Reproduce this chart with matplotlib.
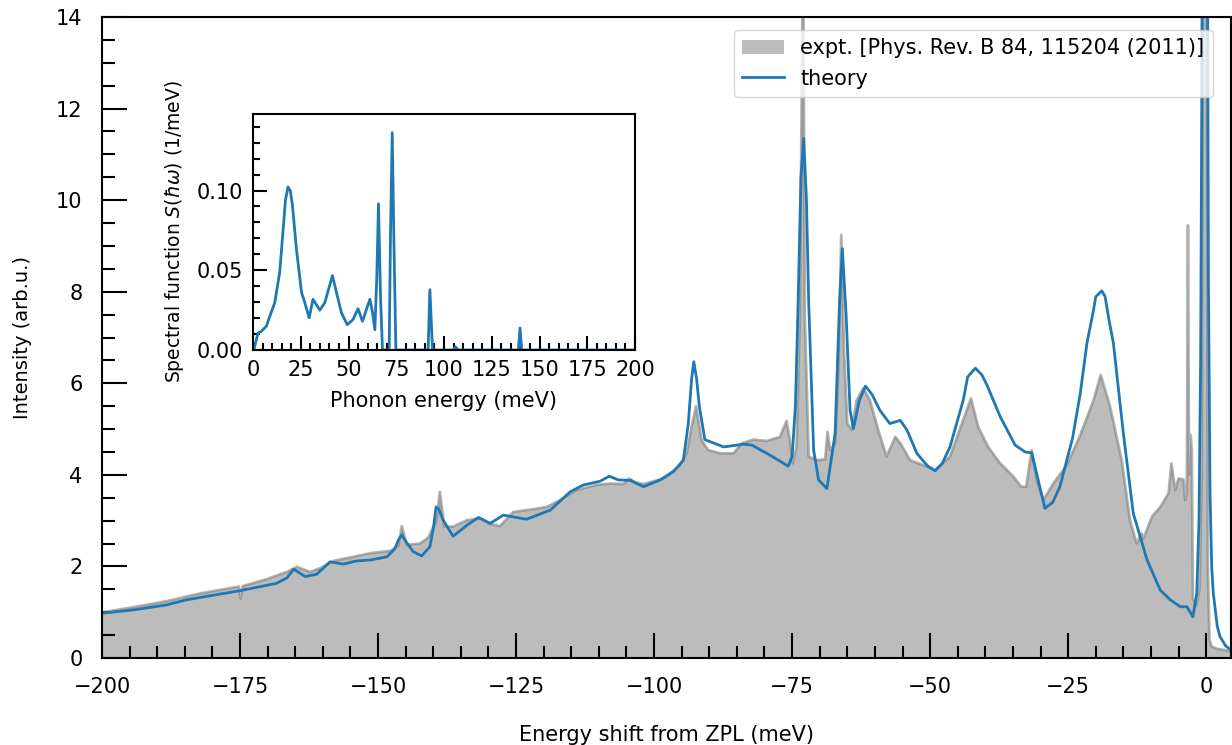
import numpy as np
import matplotlib
matplotlib.use("Agg")
import matplotlib.pyplot as plt
from matplotlib.ticker import MultipleLocator

expt_E = [-200, -197.3, -194.3, -188.3, -182.2, -176.2, -175.2, -174.9, -174.5, -170.2,
          -166.5, -164.7, -162.3, -160.5, -158.1, -154.5, -151.4, -147.8, -146.3, -145.7,
          -144.8, -142.4, -140.9, -139.4, -138.8, -138.0, -136.4, -133.9, -131.5, -129.7,
          -127.9, -125.5, -121.9, -119.4, -117.0, -114.0, -110.4, -108.0, -105.6, -104.5,
          -103.5, -101.9, -98.3, -95.3, -94.1, -93.2, -92.4, -91.4, -90.2, -88.0,
          -85.6, -84.1, -82.0, -79.6, -77.2, -76.0, -75.4, -74.9, -74.2, -73.6,
          -73.0, -72.7, -72.0, -70.5, -69.0, -68.6, -68.1, -67.2, -66.6, -66.1,
          -65.6, -65.0, -64.2, -63.3, -62.1, -60.9, -59.4, -57.9, -56.3, -55.4,
          -53.6, -51.2, -49.1, -46.4, -44.0, -42.6, -41.3, -39.5, -37.3, -34.9,
          -33.5, -32.6, -31.6, -30.7, -29.5, -27.7, -25.2, -22.8, -20.4, -19.1,
          -17.4, -15.3, -13.8, -12.6, -11.7, -11.4, -9.8, -8.3, -6.8, -6.3,
          -5.6, -5.0, -4.1, -3.8, -3.5, -3.3, -3.1, -2.8, -2.6, -2.4,
          -1.8, -1.2, -0.8, -0.5, -0.2, 0.1, 0.3, 0.6, 1.0, 2.0, 3.0, 4.5]
expt_I = [0.99, 1.05, 1.11, 1.24, 1.41, 1.54, 1.56, 1.30, 1.57, 1.72,
          1.88, 1.99, 1.88, 1.96, 2.12, 2.21, 2.29, 2.34, 2.45, 2.88,
          2.47, 2.50, 2.63, 3.01, 3.63, 2.87, 2.87, 3.01, 3.05, 2.93,
          2.88, 3.19, 3.25, 3.30, 3.45, 3.67, 3.78, 3.81, 3.80, 3.92,
          3.84, 3.80, 3.92, 4.21, 4.47, 5.05, 5.50, 4.76, 4.54, 4.47,
          4.47, 4.69, 4.77, 4.74, 4.83, 5.18, 4.76, 4.25, 4.60, 7.45,
          16.0, 7.45, 4.40, 4.32, 4.34, 4.94, 4.54, 4.69, 6.36, 9.24,
          6.72, 5.12, 4.98, 5.63, 5.89, 5.63, 4.98, 4.40, 4.83, 4.69,
          4.32, 4.21, 4.10, 4.40, 5.20, 5.67, 5.05, 4.61, 4.25, 3.96,
          3.74, 3.74, 4.54, 3.89, 3.45, 3.81, 4.22, 4.87, 5.63, 6.18,
          5.49, 4.32, 3.01, 2.50, 2.72, 2.60, 3.09, 3.30, 3.60, 4.25,
          3.67, 3.92, 3.90, 3.45, 3.60, 9.45, 4.00, 4.87, 4.50, 1.30,
          1.15, 1.50, 4.0, 20.0, 30.0, 15.0, 2.0, 0.4, 0.25, 0.20, 0.18, 0.15]

# theoretical lineshape
theo_E = [-200, -194.3, -188.3, -184.7, -180.4, -175.0, -168.4, -166.5, -165.3, -163.2,
          -161.1, -158.7, -156.3, -153.9, -151.4, -148.4, -147.0, -146.3, -145.7, -145.0,
          -143.6, -142.1, -140.6, -139.9, -139.5, -139.0, -138.2, -136.4, -133.9, -131.8,
          -129.7, -127.3, -123.1, -118.8, -115.2, -112.8, -109.8, -108.1, -106.5, -104.3,
          -101.9, -98.9, -96.5, -94.7, -93.8, -93.2, -92.8, -92.3, -91.8, -90.8,
          -87.4, -83.8, -82.3, -79.0, -75.7, -75.0, -74.4, -73.9, -73.4, -72.9,
          -72.4, -72.0, -71.1, -70.2, -68.7, -67.2, -66.4, -65.9, -65.2, -64.5,
          -63.9, -62.8, -61.7, -60.5, -59.1, -57.3, -55.4, -54.2, -52.4, -50.5,
          -49.1, -47.8, -46.4, -44.0, -43.2, -41.8, -40.6, -39.7, -37.3, -34.6,
          -32.8, -31.6, -30.7, -29.2, -27.8, -26.5, -24.2, -22.8, -21.6, -20.4,
          -20.0, -18.9, -18.3, -17.7, -16.8, -15.0, -13.2, -10.7, -8.3, -6.5,
          -4.7, -3.5, -2.4, -1.7, -1.3, -1.0, -0.8, -0.6, -0.4, -0.2,
          0.0, 0.2, 0.4, 0.7, 1.0, 1.3, 2.0, 2.5, 3.5, 4.5]
theo_I = [0.98, 1.05, 1.16, 1.27, 1.36, 1.47, 1.63, 1.75, 1.94, 1.78,
          1.83, 2.10, 2.05, 2.12, 2.14, 2.21, 2.38, 2.58, 2.69, 2.55,
          2.32, 2.23, 2.43, 2.90, 3.30, 3.25, 3.01, 2.66, 2.90, 3.07,
          2.94, 3.12, 3.03, 3.23, 3.63, 3.78, 3.86, 3.97, 3.89, 3.88,
          3.74, 3.89, 4.07, 4.32, 5.12, 6.10, 6.47, 6.10, 5.49, 4.77,
          4.61, 4.67, 4.65, 4.43, 4.19, 4.40, 5.50, 7.80, 10.5, 11.35,
          10.0, 7.80, 4.54, 3.89, 3.70, 4.91, 7.80, 8.94, 7.45, 5.41,
          5.01, 5.63, 5.94, 5.75, 5.41, 5.12, 5.19, 4.98, 4.47, 4.20,
          4.09, 4.25, 4.61, 5.63, 6.14, 6.33, 6.18, 5.96, 5.27, 4.65,
          4.50, 4.48, 4.03, 3.27, 3.40, 3.74, 4.80, 5.78, 6.87, 7.60,
          7.89, 8.02, 7.89, 7.45, 6.87, 4.91, 3.16, 2.14, 1.48, 1.27,
          1.12, 1.12, 0.90, 1.41, 3.0, 6.5, 12.0, 20.0, 32.0, 40.0,
          32.0, 18.0, 8.5, 3.6, 2.0, 1.41, 0.70, 0.47, 0.27, 0.17]

# spectral function for the inset
ph_E = [0, 0.4, 2.6, 4.4, 7.0, 8.8, 11.4, 14.0, 15.7, 17.0, 18.3,
        19.5, 20.6, 22.7, 25.4, 27.1, 29.4, 31.4, 35.0, 37.6, 41.6, 43.7,
        46.3, 49.3, 52.4, 55.0, 57.3, 61.2, 62.6, 63.8, 64.8, 65.7,
        66.8, 67.8, 71.3, 72.0, 72.9, 73.7, 74.8, 91.7, 92.6, 94.0,
        104.5, 106.0, 107.5, 138.9, 139.8, 140.7, 200]
ph_S = [0, 0, 0.0106, 0.0117, 0.0149, 0.0212, 0.0297, 0.0488, 0.0743, 0.094, 0.1023,
        0.1000, 0.0913, 0.0637, 0.0361, 0.0297, 0.0202, 0.0318, 0.0250, 0.0297, 0.0467, 0.0361,
        0.0234, 0.0159, 0.0191, 0.0259, 0.0180, 0.0318, 0.0234, 0.0127, 0.045, 0.0917,
        0.032, 0, 0, 0.074, 0.1363, 0.074, 0, 0, 0.0378, 0,
        0, 0.002, 0, 0, 0.0138, 0, 0]

plt.rcParams['font.size'] = 15
plt.rcParams['axes.linewidth'] = 1.5

fig = plt.figure(figsize=(12.32, 7.45), dpi=100)
ax = fig.add_axes([102/1232, 87/745, 1129/1232, 641/745])

ax.fill_between(expt_E, 0, expt_I, color='gray', alpha=0.52, lw=0,
                label='expt. [Phys. Rev. B 84, 115204 (2011)]')
ax.plot(expt_E, expt_I, color='gray', alpha=0.6, lw=2)
ax.plot(theo_E, theo_I, color='tab:blue', lw=2, label='theory')

ax.set_xlim(-200, 4.5)
ax.set_ylim(0, 14)
ax.xaxis.set_major_locator(MultipleLocator(25))
ax.xaxis.set_minor_locator(MultipleLocator(5))
ax.yaxis.set_major_locator(MultipleLocator(2))
ax.yaxis.set_minor_locator(MultipleLocator(0.5))
ax.tick_params(which='both', direction='in', width=1.5, top=False, right=False)
ax.tick_params(which='major', length=18, pad=14)
ax.tick_params(which='minor', length=9)
ax.set_xlabel('Energy shift from ZPL (meV)', labelpad=20)
ax.set_ylabel('Intensity (arb.u.)', fontsize=14, labelpad=17)
ax.legend(loc='upper right', bbox_to_anchor=(0.984, 0.98), borderaxespad=0)

# inset
ins = fig.add_axes([253/1232, 395/745, 382/1232, 236/745])
ins.plot(ph_E, ph_S, color='tab:blue', lw=2)
ins.set_xlim(0, 200)
ins.set_ylim(0, 0.148)
ins.xaxis.set_major_locator(MultipleLocator(25))
ins.xaxis.set_minor_locator(MultipleLocator(5))
ins.yaxis.set_major_locator(MultipleLocator(0.05))
ins.yaxis.set_minor_locator(MultipleLocator(0.01))
ins.tick_params(which='both', direction='in', width=1.5, top=False, right=False)
ins.tick_params(which='major', length=10, pad=7)
ins.tick_params(which='minor', length=5)
ins.set_xlabel('Phonon energy (meV)', labelpad=8)
ins.set_ylabel(r'Spectral function $S(\hbar\omega)$ (1/meV)', fontsize=13.5, labelpad=8)

fig.savefig('out.png', dpi=100)
